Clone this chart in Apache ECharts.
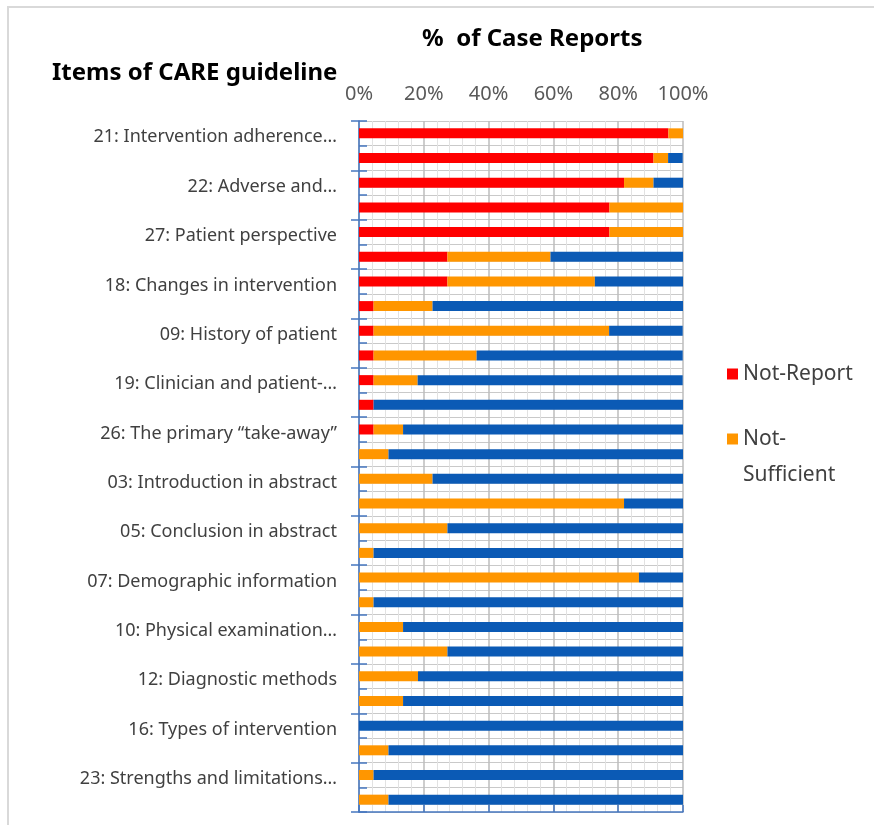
<!DOCTYPE html>
<html>
  <head>
    <meta charset="utf-8" />
    <title>CARE guideline items</title>
    <script src="https://cdn.jsdelivr.net/npm/echarts@6/dist/echarts.min.js"></script>
    <style>
      html, body { margin: 0; padding: 0; background: #fff; }
    </style>
  </head>
  <body>
    <div id="main" style="width: 874px; height: 825px"></div>

    <script type="text/javascript">
      // items, top to bottom (only every other one gets a label in the chart)
      var items = [
        "21: Intervention adherence…", "20: Follow-up test results",
        "22: Adverse and…", "28: Informed consent",
        "27: Patient perspective", "17: Administration of intervention",
        "18: Changes in intervention", "24: Relevant medical literature",
        "09: History of patient", "25: Rationale for conclusions",
        "19: Clinician and patient-…", "15: Prognostic characteristics",
        "26: The primary “take-away”", "13: Diagnostic challenges",
        "03: Introduction in abstract", "14: Diagnostic reasoning",
        "05: Conclusion in abstract", "02: Key words",
        "07: Demographic information", "01: Title",
        "10: Physical examination…", "04: Main symptoms in abstract",
        "12: Diagnostic methods", "06: Introduction",
        "16: Types of intervention", "08: Main symptoms",
        "23: Strengths and limitations…", "11: Timeline"
      ];
      // % of case reports
      var notReport = [95.5, 90.9, 81.8, 77.3, 77.3, 27.3, 27.3, 4.5, 4.5, 4.5, 4.5, 4.5, 4.5, 0,
                       0, 0, 0, 0, 0, 0, 0, 0, 0, 0, 0, 0, 0, 0];
      var notSufficient = [4.5, 4.5, 9.1, 22.7, 22.7, 31.8, 45.5, 18.2, 72.7, 31.8, 13.6, 0, 9.1, 9.1,
                           22.7, 81.8, 27.3, 4.5, 86.4, 4.5, 13.6, 27.3, 18.2, 13.6, 0, 9.1, 4.5, 9.1];
      var sufficient = [0, 4.5, 9.1, 0, 0, 40.9, 27.3, 77.3, 22.7, 63.6, 81.8, 95.5, 86.4, 90.9,
                        77.3, 18.2, 72.7, 95.5, 13.6, 95.5, 86.4, 72.7, 81.8, 86.4, 100, 90.9, 95.5, 90.9];
      var xTicks = [0, 20, 40, 60, 80, 100];

      var axisBlue = "#4677c0";
      var font = "Noto Sans";

      var myChart = echarts.init(document.getElementById("main"));

      var option = {
        animation: false,
        textStyle: { fontFamily: font },
        title: [
          {
            text: "%  of Case Reports",
            left: 422,
            top: 27,
            padding: 0,
            textStyle: { fontFamily: font, fontSize: 24, fontWeight: "bold", color: "#000" }
          },
          {
            text: "Items of CARE guideline",
            left: 52,
            top: 61,
            padding: 0,
            textStyle: { fontFamily: font, fontSize: 24, fontWeight: "bold", color: "#000" }
          }
        ],
        legend: [
          {
            data: ["Not-Report"],
            left: 727,
            top: 362,
            padding: 0,
            itemWidth: 11,
            itemHeight: 11,
            icon: "rect",
            textStyle: { fontFamily: font, fontSize: 21, color: "#404040", lineHeight: 24 }
          },
          {
            // empty first line keeps "Not-" level with the swatch
            data: ["Not-Sufficient"],
            left: 727,
            top: 385,
            padding: 0,
            itemWidth: 11,
            itemHeight: 11,
            icon: "rect",
            formatter: function () { return " \nNot-\nSufficient"; },
            textStyle: { fontFamily: font, fontSize: 21, color: "#404040", lineHeight: 36 }
          }
        ],
        graphic: [
          {
            type: "rect",
            shape: { x: 8, y: 7, width: 900, height: 900 },
            style: { fill: "none", stroke: "#d9d9d9", lineWidth: 2 },
            silent: true
          }
        ],
        grid: { left: 359, right: 191, top: 121, bottom: 13, containLabel: false },
        xAxis: {
          type: "value",
          position: "top",
          min: xTicks[0],
          max: xTicks[xTicks.length - 1],
          interval: 20,
          axisLine: { show: true, lineStyle: { color: axisBlue, width: 1.5 } },
          axisTick: { show: true, length: 7, lineStyle: { color: axisBlue, width: 1.5 } },
          minorTick: { show: false, splitNumber: 5 },
          axisLabel: { formatter: "{value}%", fontSize: 20, color: "#595959", margin: 17, fontFamily: font },
          splitLine: { show: true, lineStyle: { color: "#bdbdbd", width: 1.5 } },
          minorSplitLine: { show: true, lineStyle: { color: "#e2e2e2", width: 1 } }
        },
        yAxis: [
          {
            type: "category",
            data: items,
            inverse: true,
            position: "left",
            axisLine: { show: true, lineStyle: { color: axisBlue, width: 1.5 } },
            axisTick: { show: true, length: 8, lineStyle: { color: axisBlue, width: 1.5 } },
            axisLabel: {
              interval: 1, margin: 22,
              formatter: function (v) { return "{t|" + v + "}"; },
              rich: {
                t: { fontSize: 18, color: "#404040", fontFamily: font, padding: [8, 0, 0, 0] }
              }
            },
            splitLine: { show: false }
          },
          {
            // row boundaries and finer horizontal grid
            type: "value",
            min: 0,
            max: items.length,
            interval: 1,
            position: "left",
            axisLine: { show: false },
            axisTick: { show: true, inside: true, length: 8, lineStyle: { color: axisBlue, width: 1.5 } },
            axisLabel: { show: false },
            minorTick: { show: false, splitNumber: 3 },
            splitLine: { show: true, lineStyle: { color: "#c9c9c9", width: 1 } },
            minorSplitLine: { show: true, lineStyle: { color: "#e2e2e2", width: 1 } }
          }
        ],
        series: [
          {
            name: "Not-Report",
            type: "bar",
            stack: "all",
            barWidth: 10,
            yAxisIndex: 0,
            itemStyle: { color: "#ff0000" },
            data: notReport
          },
          {
            name: "Not-Sufficient",
            type: "bar",
            stack: "all",
            barWidth: 10,
            yAxisIndex: 0,
            itemStyle: { color: "#ff9600" },
            data: notSufficient
          },
          {
            name: "Sufficient",
            type: "bar",
            stack: "all",
            barWidth: 10,
            yAxisIndex: 0,
            itemStyle: { color: "#0b5ab5" },
            data: sufficient
          }
        ]
      };
      myChart.setOption(option);
    </script>
  </body>
</html>
